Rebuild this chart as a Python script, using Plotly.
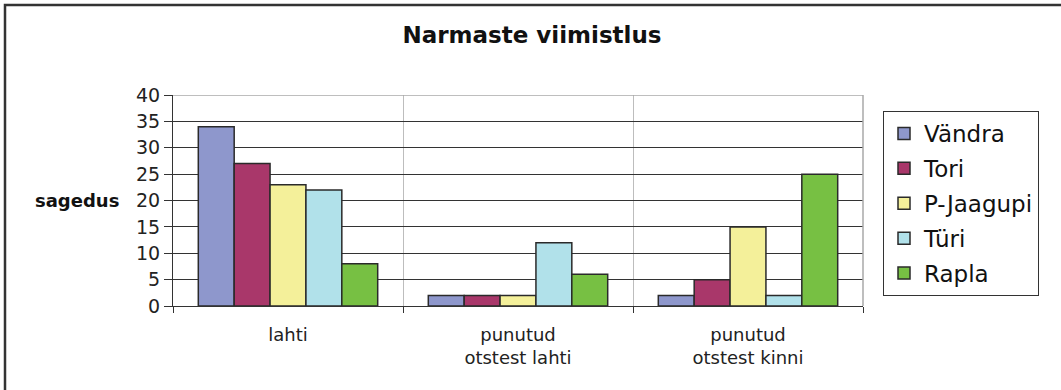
import plotly.graph_objects as go

# Data
categories = ["lahti", "punutud<br>otstest lahti", "punutud<br>otstest kinni"]
series_names = ["Vändra", "Tori", "P-Jaagupi", "Türi", "Rapla"]
vandra = [34, 2, 2]
tori = [27, 2, 5]
pjaagupi = [23, 2, 15]
turi = [22, 12, 2]
rapla = [8, 6, 25]
y_ticks = [0, 5, 10, 15, 20, 25, 30, 35, 40]

series_values = [vandra, tori, pjaagupi, turi, rapla]
colors = ["#8e97cc", "#a9376a", "#f4f09a", "#b1e1ea", "#77c043"]

FONT = "DejaVu Sans, Arial, sans-serif"
W, H = 1061, 390
L, R, T, B = 173, 198, 95, 84
pw, ph = W - L - R, H - T - B


def px_x(x):
    return (x - L) / pw


def px_y(y):
    return (H - B - y) / ph


fig = go.Figure()
for name, vals, col in zip(series_names, series_values, colors):
    fig.add_trace(go.Bar(
        x=categories, y=vals, name=name, legendgroup=name,
        marker=dict(color=col, line=dict(color="#2a2a2a", width=1.5)),
    ))

fig.update_layout(
    width=W, height=H,
    margin=dict(l=L, r=R, t=T, b=B),
    paper_bgcolor="white", plot_bgcolor="white",
    barmode="group", bargap=0.22, bargroupgap=0,
    font=dict(family=FONT, color="#222"),
    title=dict(text="<b>Narmaste viimistlus</b>", x=532 / W, xref="container",
               xanchor="center", y=1 - 35 / H, yanchor="middle",
               font=dict(size=23, family=FONT, color="#111")),
    showlegend=True,
    legend=dict(x=px_x(883), y=px_y(111), xanchor="left", yanchor="top",
                bordercolor="#333", borderwidth=1, bgcolor="white",
                font=dict(size=23, family=FONT, color="#111"),
                tracegroupgap=2, itemwidth=30),
)

fig.update_xaxes(
    type="category", tickson="boundaries",
    showline=True, linecolor="#333", linewidth=1.2,
    ticks="outside", ticklen=6, tickcolor="#333",
    showgrid=True, gridcolor="#bdbdbd", gridwidth=1,
    tickfont=dict(size=18, family=FONT, color="#222"),
    ticklabelstandoff=12,
)
fig.update_yaxes(
    range=[0, 40], tickvals=y_ticks,
    showline=True, linecolor="#333", linewidth=1.2,
    ticks="outside", ticklen=8, tickcolor="#333",
    showgrid=True, gridcolor="#333", gridwidth=1,
    tickfont=dict(size=19, family=FONT, color="#222"),
    zeroline=False,
)

# y-axis caption
fig.add_annotation(text="<b>sagedus</b>", xref="paper", yref="y",
                   x=px_x(121), y=20, xanchor="right", yanchor="middle",
                   showarrow=False,
                   font=dict(size=18, family=FONT, color="#111"))

# top edge of plot area and right edge in grey
fig.add_shape(type="line", xref="paper", yref="y", x0=0, x1=1, y0=40, y1=40,
              line=dict(color="#a8a8a8", width=1.5), layer="above")
fig.add_shape(type="line", xref="paper", yref="y", x0=1, x1=1, y0=0, y1=40,
              line=dict(color="#a8a8a8", width=1.5), layer="above")

# outer chart frame
fig.add_shape(type="rect", xref="paper", yref="paper",
              x0=px_x(5), x1=px_x(1075), y0=px_y(5), y1=px_y(400),
              line=dict(color="#333", width=2.5), layer="below")

fig.write_html("out.html")
